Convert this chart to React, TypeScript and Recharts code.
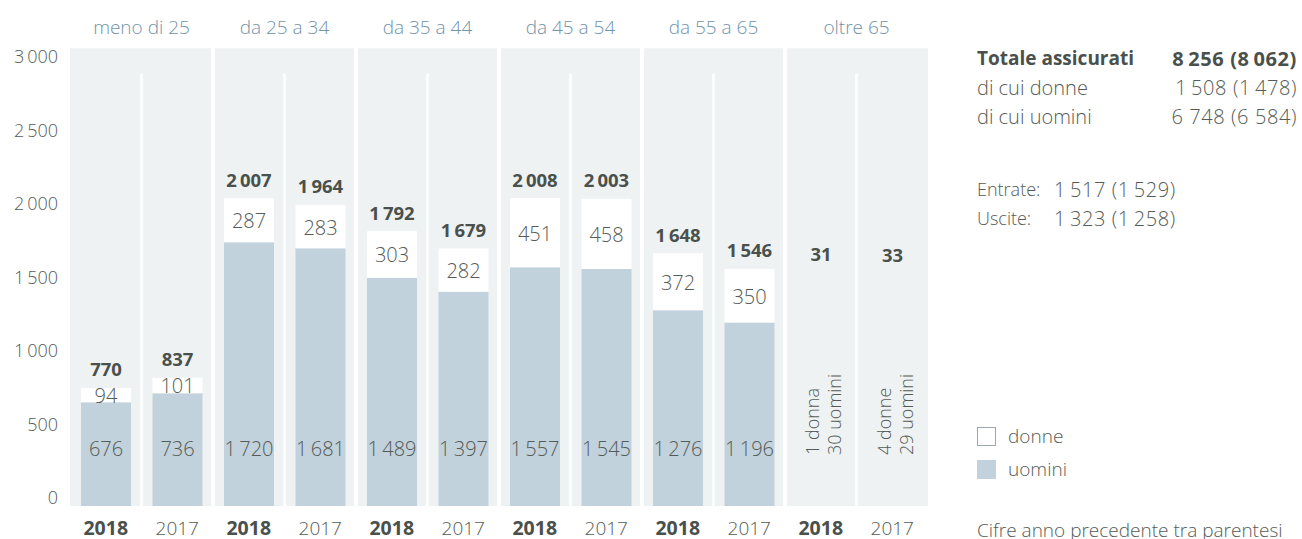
import {
  Bar,
  BarChart,
  Cell,
  LabelList,
  Legend,
  ReferenceArea,
  ReferenceLine,
  XAxis,
  YAxis,
} from "recharts";

const groups = ["meno di 25", "da 25 a 34", "da 35 a 44", "da 45 a 54", "da 55 a 65", "oltre 65"];
const years = ["2018", "2017"];
const uomini = [676, 736, 1720, 1681, 1489, 1397, 1557, 1545, 1276, 1196, 30, 29];
const donne = [94, 101, 287, 283, 303, 282, 451, 458, 372, 350, 1, 4];
const totali = [770, 837, 2007, 1964, 1792, 1679, 2008, 2003, 1648, 1546, 31, 33];
// the last group is too small to draw, it gets a written note instead
const notes: (string[] | null)[] = [
  null, null, null, null, null, null, null, null, null, null,
  ["1 donna", "30 uomini"],
  ["4 donne", "29 uomini"],
];
const yTicks = [0, 500, 1000, 1500, 2000, 2500, 3000];

const FONT = "'Open Sans', 'Noto Sans', sans-serif";
const TEXT = "#555b56";
const DARK = "#4a504b";
const BLUE = "#7293a9";
const BAR = "#c1d2dc";
const PANEL = "#eef2f3";

const fmt = (n: number) => String(n).replace(/\B(?=(\d{3})+(?!\d))/g, "\u2009");

const data = uomini.map((u, i) => ({
  pos: i + 0.5,
  year: years[i % 2],
  uomini: u,
  donne: donne[i],
  totale: totali[i],
}));

const YearTick = ({ x, y, payload }: any) => {
  const i = Math.round(payload.value - 0.5);
  return (
    <text x={x} y={y + 22.5} dy="0.35em" textAnchor="middle" fontSize={i % 2 === 0 ? 19.5 : 19}
      fontWeight={i % 2 === 0 ? 700 : 300} fill={i % 2 === 0 ? DARK : TEXT} fontFamily={FONT}>
      {years[i % 2]}
    </text>
  );
};

const GroupTick = ({ x, y, payload }: any) => (
  <text x={x} y={y - 19} dy="0.35em" textAnchor="middle" fontSize={19} fill={BLUE}
    fontWeight={300} fontFamily={FONT}>
    {groups[Math.round((payload.value - 1) / 2)]}
  </text>
);

const UominiLabel = ({ x, y, width, height, index }: any) => {
  const cx = x + width / 2;
  const bottom = y + height;
  const note = notes[index];
  if (note) {
    return (
      <g fill={TEXT} fontSize={18} fontWeight={300} fontFamily={FONT}>
        <text transform={`translate(${cx - 8},${bottom - 51}) rotate(-90)`} dy="0.35em">{note[0]}</text>
        <text transform={`translate(${cx + 14},${bottom - 51}) rotate(-90)`} dy="0.35em">{note[1]}</text>
      </g>
    );
  }
  return (
    <text x={cx} y={bottom - 57} dy="0.35em" textAnchor="middle" fontSize={20} fill={TEXT}
      fontWeight={300} fontFamily={FONT}>
      {fmt(uomini[index])}
    </text>
  );
};

const DonneLabel = ({ x, y, width, height, index }: any) => {
  if (notes[index]) return null;
  return (
    <text x={x + width / 2} y={y + height / 2 + 1} dy="0.35em" textAnchor="middle" fontSize={20}
      fill={TEXT} fontWeight={300} fontFamily={FONT}>
      {fmt(donne[index])}
    </text>
  );
};

const TotalLabel = ({ x, y, width, height, index }: any) => {
  const ty = notes[index] ? y + height + 4.6 - 251 : y - 18;
  return (
    <text x={x + width / 2} y={ty} dy="0.35em" textAnchor="middle" fontSize={18.5}
      fontWeight={700} fill={DARK} fontFamily={FONT}>
      {fmt(totali[index])}
    </text>
  );
};

const LegendBox = () => (
  <div style={{ fontFamily: FONT, fontWeight: 300, fontSize: 19, color: TEXT, lineHeight: "33px" }}>
    {[
      { name: "donne", fill: "#fff", border: "1px solid #9aa7ae" },
      { name: "uomini", fill: BAR, border: `1px solid ${BAR}` },
    ].map((it) => (
      <div key={it.name} style={{ display: "flex", alignItems: "center" }}>
        <span style={{ width: 17, height: 17, background: it.fill, border: it.border, marginRight: 12 }} />
        {it.name}
      </div>
    ))}
  </div>
);

const rowStyle = { position: "absolute" as const, left: 977, fontSize: 19, lineHeight: "29px", whiteSpace: "nowrap" as const };
const numStyle = { ...rowStyle, left: "auto", right: 1302 - 1297, fontSize: 20, letterSpacing: 0.6 };

export default function App() {
  return (
    <div style={{ position: "absolute", left: 0, top: 0, width: 1302, height: 539, background: "#fff",
      fontFamily: FONT, fontWeight: 300, color: TEXT }}>
      <BarChart width={1302} height={539} data={data} margin={{ top: 0, right: 374, bottom: 0, left: 0 }}>
        <ReferenceArea x1={0} x2={12} y1={0} y2={2985} fill={PANEL} fillOpacity={1} stroke="none" />
        {[2, 4, 6, 8, 10].map((v) => (
          <ReferenceLine key={v} x={v} stroke="#fff" strokeWidth={4} />
        ))}
        {[1, 3, 5, 7, 9, 11].map((v) => (
          <ReferenceLine key={v} segment={[{ x: v, y: 0 }, { x: v, y: 2820 }]} stroke="#fff" strokeWidth={2.5} />
        ))}
        <XAxis dataKey="pos" type="number" domain={[0, 12]} ticks={data.map((d) => d.pos)}
          height={33} tickSize={0} tickMargin={0} axisLine={false} tick={<YearTick />} interval={0} />
        <XAxis xAxisId="grp" dataKey="pos" orientation="top" type="number" domain={[0, 12]}
          ticks={[1, 3, 5, 7, 9, 11]} height={46} tickSize={0} tickMargin={0} axisLine={false}
          tick={<GroupTick />} interval={0} allowDataOverflow />
        <YAxis yAxisId="lbl" dataKey="uomini" domain={[-54, 3075]} ticks={yTicks} width={70} tickSize={0}
          tickMargin={12} axisLine={false} interval={0} allowDataOverflow tickFormatter={fmt}
          tick={{ fontSize: 18, fill: TEXT, fontFamily: FONT, fontWeight: 300 }} />
        <YAxis domain={[0, 3000]} width={0} hide allowDataOverflow />
        <Legend layout="vertical" align="center" verticalAlign="middle" content={<LegendBox />}
          wrapperStyle={{ position: "absolute", left: 977, top: 420, width: 200 }} />
        <Bar dataKey="uomini" name="uomini" stackId="a" fill={BAR} barSize={50} isAnimationActive={false}>
          {data.map((_, i) => (
            <Cell key={i} fill={notes[i] ? "transparent" : BAR} />
          ))}
          <LabelList dataKey="uomini" content={<UominiLabel />} />
        </Bar>
        <Bar dataKey="donne" name="donne" stackId="a" fill="#fff" barSize={50} isAnimationActive={false}>
          {data.map((_, i) => (
            <Cell key={i} fill={notes[i] ? "transparent" : "#fff"} />
          ))}
          <LabelList dataKey="donne" content={<DonneLabel />} />
          <LabelList dataKey="totale" content={<TotalLabel />} />
        </Bar>
      </BarChart>

      <div style={{ ...rowStyle, top: 44, fontWeight: 700, color: DARK }}>Totale assicurati</div>
      <div style={{ ...numStyle, top: 44, fontWeight: 700, color: DARK }}>8{"\u2009"}256 (8{"\u2009"}062)</div>
      <div style={{ ...rowStyle, top: 73, fontSize: 20 }}>di cui donne</div>
      <div style={{ ...numStyle, top: 73 }}>1{"\u2009"}508 (1{"\u2009"}478)</div>
      <div style={{ ...rowStyle, top: 102, fontSize: 20 }}>di cui uomini</div>
      <div style={{ ...numStyle, top: 102 }}>6 748 (6 584)</div>
      <div style={{ ...rowStyle, top: 175, fontSize: 18 }}>Entrate:</div>
      <div style={{ ...rowStyle, left: 1054, top: 175, fontSize: 20, letterSpacing: 0.6 }}>1{"\u2009"}517 (1{"\u2009"}529)</div>
      <div style={{ ...rowStyle, top: 204, fontSize: 18 }}>Uscite:</div>
      <div style={{ ...rowStyle, left: 1054, top: 204, fontSize: 20, letterSpacing: 0.6 }}>1{"\u2009"}323 (1{"\u2009"}258)</div>
      <div style={{ ...rowStyle, top: 516 }}>Cifre anno precedente tra parentesi</div>
    </div>
  );
}
